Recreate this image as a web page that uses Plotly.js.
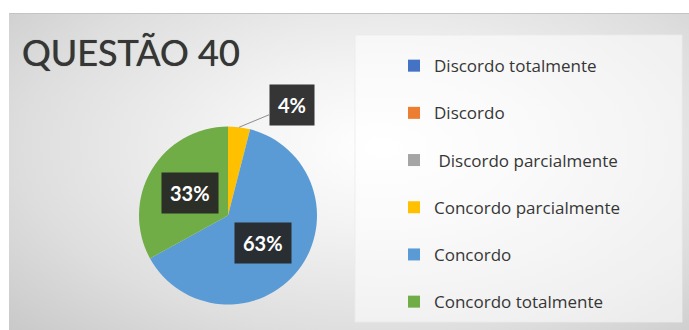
<!DOCTYPE html>
<html>
<head>
<meta charset="utf-8">
<script src="https://cdn.plot.ly/plotly-3.0.1.min.js"></script>
<style>
  html, body { margin: 0; padding: 0; background: #ffffff; }
  #wrap { position: relative; width: 689px; height: 330px; overflow: hidden; background: #ffffff; }
  #bg {
    position: absolute; left: 9px; top: 13px; width: 680px; height: 317px;
    background: radial-gradient(ellipse 75% 85% at 55% 42%, #ffffff 0%, #f3f3f3 30%, #dedede 70%, #c9c9c9 100%);
    border-top: 1px solid #c4c4c4;
  }
  #chart { position: absolute; left: 0; top: 0; width: 689px; height: 330px; }
</style>
</head>
<body>
<div id="wrap">
  <div id="bg"></div>
  <div id="chart"></div>
</div>
<script>
// ---- data ----
var chartTitle = 'QUESTÃO 40';
var categories = [
  'Discordo totalmente',
  'Discordo',
  '\u00a0Discordo parcialmente',
  'Concordo parcialmente',
  'Concordo',
  'Concordo totalmente'
];
var values = [0, 0, 0, 4, 63, 33];
var colors = ['#4472C4', '#ED7D31', '#A5A5A5', '#FFC000', '#5B9BD5', '#70AD47'];

// ---- geometry / style ----
var W = 689, H = 330;
var pieCx = 228, pieCy = 215.5, pieR = 89;   // px
var insideFrac = 0.5;

var domX = [(pieCx - pieR) / W, (pieCx + pieR) / W];
var domY = [(H - pieCy - pieR) / H, (H - pieCy + pieR) / H];

// blank first line gives the wide row spacing of the original legend
var legendNames = categories.map(function (c) { return '\u00a0<br>' + c; });

var trace = {
  type: 'pie',
  labels: legendNames,
  values: values,
  marker: { colors: colors, line: { width: 0 } },
  sort: false,
  direction: 'clockwise',
  rotation: 0,
  textinfo: 'none',
  hoverinfo: 'label+percent',
  domain: { x: domX, y: domY },
  showlegend: true
};

// percentage labels computed from the data
var total = values.reduce(function (a, b) { return a + b; }, 0);
var annotations = [];
var cum = 0;
for (var i = 0; i < values.length; i++) {
  var v = values[i];
  if (v <= 0) { continue; }
  var frac = v / total;
  var mid = (cum + frac / 2) * 2 * Math.PI;
  cum += frac;
  var txt = Math.round(frac * 100) + '%';
  var base = {
    xref: 'paper', yref: 'paper',
    text: txt,
    font: { family: 'Lato, sans-serif', size: 20, color: '#ffffff', weight: 'bold' },
    bgcolor: 'rgba(38,38,38,0.93)',
    borderpad: 8
  };
  if (frac < 0.1) {
    var ex = pieCx + pieR * Math.sin(mid);
    var ey = pieCy - pieR * Math.cos(mid);
    base.x = ex / W; base.y = (H - ey) / H;
    base.showarrow = true; base.arrowhead = 0; base.arrowwidth = 1;
    base.arrowcolor = '#8c8c8c'; base.standoff = 0;
    base.ax = 53; base.ay = -22;
  } else {
    var px = pieCx + insideFrac * pieR * Math.sin(mid);
    var py = pieCy - insideFrac * pieR * Math.cos(mid);
    base.x = px / W; base.y = (H - py) / H;
    base.showarrow = false;
    base.xanchor = 'center'; base.yanchor = 'middle';
  }
  annotations.push(base);
}

var layout = {
  width: W, height: H,
  margin: { l: 0, r: 0, t: 0, b: 0 },
  paper_bgcolor: 'rgba(0,0,0,0)',
  plot_bgcolor: 'rgba(0,0,0,0)',
  title: {
    text: chartTitle,
    font: { family: 'Lato, sans-serif', size: 36, color: '#363636', shadow: '0px 0px 0.7px #363636' },
    xref: 'paper', x: 22 / W, xanchor: 'left',
    yref: 'container', y: 1 - 53 / H, yanchor: 'middle'
  },
  showlegend: true,
  legend: {
    x: 394 / W, xanchor: 'left', xref: 'paper',
    y: (H - 26) / H, yanchor: 'top', yref: 'paper',
    valign: 'bottom',
    bgcolor: 'rgba(0,0,0,0)',
    font: { family: '"Open Sans", sans-serif', size: 17, color: '#363636' },
    traceorder: 'normal'
  },
  shapes: [{
    type: 'rect', xref: 'paper', yref: 'paper', layer: 'below',
    x0: 355 / W, x1: 682 / W, y0: 8 / H, y1: (H - 35) / H,
    fillcolor: 'rgba(255,255,255,0.55)',
    line: { color: 'rgba(235,235,235,0.8)', width: 1 }
  }],
  annotations: annotations
};

Plotly.newPlot('chart', [trace], layout, { displayModeBar: false, staticPlot: true });
</script>
</body>
</html>
